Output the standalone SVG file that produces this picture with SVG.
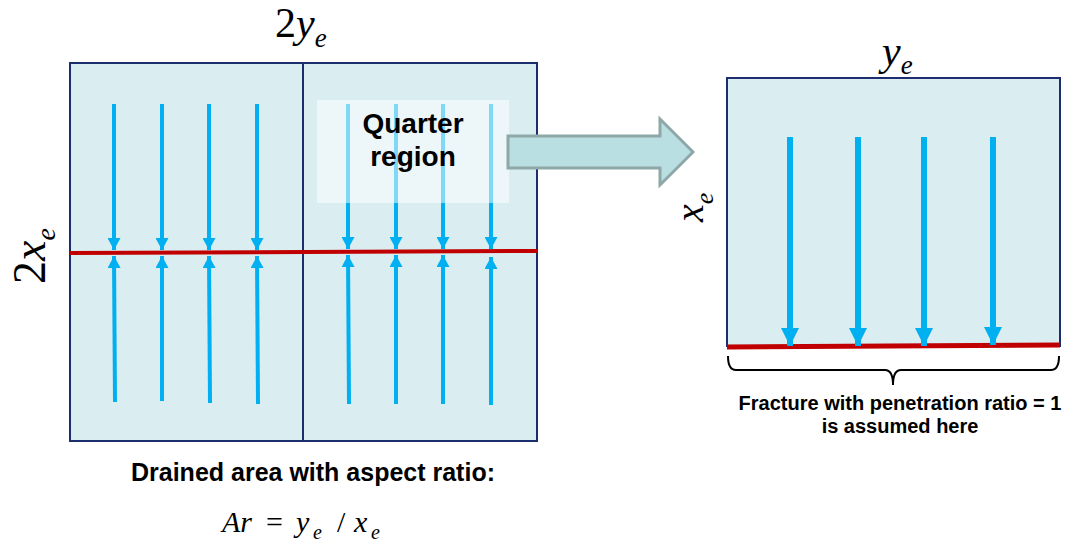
<svg xmlns="http://www.w3.org/2000/svg" width="1068" height="548" viewBox="0 0 1068 548">
<defs>
<style>
.area{fill:#daedf0;stroke:#1c2e6e;stroke-width:2}
.frac{stroke:#c00000;fill:none}
.flow{stroke:#00b0f0;stroke-width:4;fill:none}
.flowR{stroke:#00b0f0;stroke-width:6;fill:none}
.math{font-family:"Liberation Serif","Times New Roman",serif;font-style:italic;fill:#000}
.up{font-style:normal}
.lbl{font-family:"Liberation Sans",Arial,sans-serif;font-weight:bold;fill:#000}
</style>
<marker id="hs" markerUnits="userSpaceOnUse" markerWidth="12" markerHeight="13" refX="12" refY="6.5" orient="auto" viewBox="0 0 12 13">
<path d="M0,0 L12,6.5 L0,13 Z" fill="#00b0f0"/>
</marker>
<marker id="hl" markerUnits="userSpaceOnUse" markerWidth="18" markerHeight="18" refX="18" refY="9" orient="auto" viewBox="0 0 18 18">
<path d="M0,0 L18,9 L0,18 Z" fill="#00b0f0"/>
</marker>
</defs>
<rect width="1068" height="548" fill="#fff"/>

<g id="left-half">
<rect class="area" x="70" y="63" width="233" height="378"/>
</g>
<g id="right-half">
<rect class="area" x="303" y="63" width="234" height="378"/>
</g>
<g id="fracture-left">
<line class="frac" x1="70" y1="253" x2="537" y2="251" stroke-width="4"/>
</g>

<g id="flow-left">
<line class="flow" x1="114" y1="104" x2="114" y2="250" marker-end="url(#hs)"/>
<line class="flow" x1="162" y1="104" x2="162" y2="250" marker-end="url(#hs)"/>
<line class="flow" x1="209" y1="104" x2="209" y2="250" marker-end="url(#hs)"/>
<line class="flow" x1="257" y1="104" x2="257" y2="250" marker-end="url(#hs)"/>
<line class="flow" x1="348" y1="104" x2="348" y2="249" marker-end="url(#hs)"/>
<line class="flow" x1="396" y1="104" x2="396" y2="249" marker-end="url(#hs)"/>
<line class="flow" x1="443" y1="104" x2="443" y2="249" marker-end="url(#hs)"/>
<line class="flow" x1="491" y1="104" x2="491" y2="249" marker-end="url(#hs)"/>
<line class="flow" x1="115" y1="402" x2="114" y2="256" marker-end="url(#hs)"/>
<line class="flow" x1="162" y1="401" x2="162" y2="256" marker-end="url(#hs)"/>
<line class="flow" x1="210" y1="403" x2="209" y2="256" marker-end="url(#hs)"/>
<line class="flow" x1="258" y1="404" x2="257" y2="256" marker-end="url(#hs)"/>
<line class="flow" x1="349" y1="404" x2="348" y2="255" marker-end="url(#hs)"/>
<line class="flow" x1="396" y1="404" x2="396" y2="255" marker-end="url(#hs)"/>
<line class="flow" x1="443" y1="404" x2="443" y2="255" marker-end="url(#hs)"/>
<line class="flow" x1="491" y1="405" x2="491" y2="257" marker-end="url(#hs)"/>
</g>

<g id="quarter-region">
<rect x="317" y="100" width="192" height="103" fill="#fff" fill-opacity="0.5"/>
<text class="lbl" x="413" y="133" font-size="28" text-anchor="middle">Quarter</text>
<text class="lbl" x="413" y="166" font-size="28" text-anchor="middle">region</text>
</g>

<g id="labels-left">
<text class="math" x="275" y="37" font-size="42"><tspan class="up">2</tspan>y<tspan font-size="27" dy="10">e</tspan></text>
<text class="math" transform="translate(45,284) rotate(-90)" font-size="46"><tspan class="up">2</tspan>x<tspan font-size="28" dy="10">e</tspan></text>
<text class="lbl" x="313" y="481" font-size="25" text-anchor="middle">Drained area with aspect ratio:</text>
<text class="math" y="532" font-size="30"><tspan x="222">Ar</tspan><tspan class="up" x="266">=</tspan><tspan x="296">y</tspan><tspan font-size="20" x="313" dy="7">e</tspan><tspan class="up" x="337" dy="-7">/</tspan><tspan x="354">x</tspan><tspan font-size="20" x="371" dy="7">e</tspan></text>
</g>

<g id="quarter-model">
<rect class="area" x="727" y="78" width="333" height="268"/>
<line class="frac" x1="727" y1="347" x2="1060" y2="345" stroke-width="5"/>
<line class="flowR" x1="790" y1="137" x2="790" y2="346" marker-end="url(#hl)"/>
<line class="flowR" x1="858" y1="137" x2="858" y2="346" marker-end="url(#hl)"/>
<line class="flowR" x1="924" y1="137" x2="924" y2="346" marker-end="url(#hl)"/>
<line class="flowR" x1="993" y1="137" x2="993" y2="345" marker-end="url(#hl)"/>
<text class="math" x="882" y="65" font-size="42">y<tspan font-size="27" dy="9">e</tspan></text>
<text class="math" transform="translate(703,222) rotate(-90)" font-size="40">x<tspan font-size="26" dy="10">e</tspan></text>
<path d="M728,356 Q728,370 736,370 L885,370 Q893,370 893,385 Q893,370 901,370 L1051,370 Q1059,370 1059,356" fill="none" stroke="#000" stroke-width="2"/>
<text class="lbl" x="900" y="410" font-size="20" text-anchor="middle">Fracture with penetration ratio = 1</text>
<text class="lbl" x="900" y="433" font-size="20" text-anchor="middle">is assumed here</text>
</g>

<g id="connectors">
<path d="M508,136 L660,136 L660,119 L693,152 L660,185 L660,168 L508,168 Z" fill="#b9dfe2" stroke="#8ea8a8" stroke-width="3" stroke-linejoin="miter"/>
</g>
</svg>
